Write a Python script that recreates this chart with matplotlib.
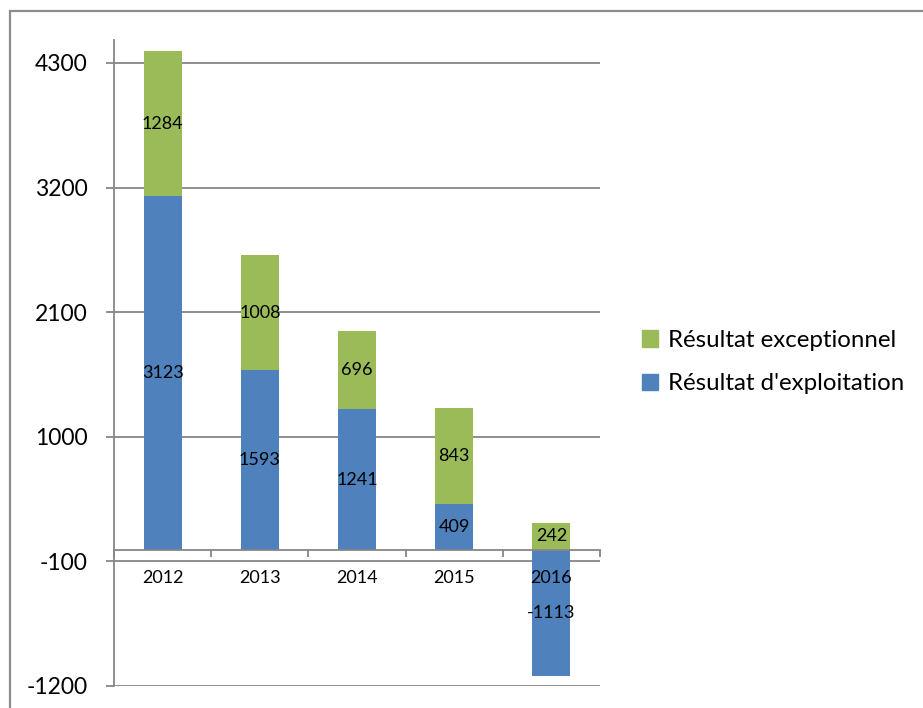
import matplotlib
matplotlib.use("Agg")
import matplotlib.pyplot as plt
from matplotlib.patches import Rectangle, Patch
import matplotlib.transforms as mtrans
import numpy as np

years = ["2012", "2013", "2014", "2015", "2016"]
exploitation = [3123, 1593, 1241, 409, -1113]
exceptionnel = [1284, 1008, 696, 843, 242]
yticks = [-1200, -100, 1000, 2100, 3200, 4300]

BLUE = "#4F81BD"
GREEN = "#9BBB59"
GRAY = "#868686"

plt.rcParams['font.family'] = ['Lato', 'DejaVu Sans']

fig = plt.figure(figsize=(9.23, 7.08), dpi=100)
W, H = 923, 708
ax = fig.add_axes([114 / W, 1 - 686 / H, (600 - 114) / W, (686 - 40) / H])

# outer frame
fig.patches.append(Rectangle((10 / W, -0.1), 1.2, 1 - 11 / H + 0.1, transform=fig.transFigure,
                             fill=False, edgecolor="#8C8C8C", linewidth=1.6, clip_on=False))

x = np.arange(len(years))
bw = 0.39
ax.bar(x, exploitation, bw, color=BLUE, zorder=3, label="Résultat d'exploitation")
base = [max(v, 0) for v in exploitation]
ax.bar(x, exceptionnel, bw, bottom=base, color=GREEN, zorder=3, label="Résultat exceptionnel")

for i in range(len(years)):
    ax.text(x[i], exploitation[i] / 2, str(exploitation[i]), ha="center", va="center",
            fontsize=13, color="black", zorder=5)
    ax.text(x[i], base[i] + exceptionnel[i] / 2, str(exceptionnel[i]), ha="center", va="center",
            fontsize=13, color="black", zorder=5)

ax.set_xlim(-0.5, len(years) - 0.5)
ax.set_ylim(-1200, 4503)

ax.set_yticks(yticks)
ax.set_yticklabels([str(v) for v in yticks], fontsize=16.5)
ax.yaxis.grid(True, color=GRAY, linewidth=1.3, zorder=1)
ax.tick_params(axis="y", length=6, width=1.3, color=GRAY, pad=13)

for s in ["top", "right"]:
    ax.spines[s].set_visible(False)
ax.spines["left"].set_color(GRAY)
ax.spines["left"].set_linewidth(1.3)
ax.spines["bottom"].set_position(("data", 0))
ax.spines["bottom"].set_color(GRAY)
ax.spines["bottom"].set_linewidth(1.3)
ax.spines["bottom"].set_zorder(4)

ax.set_xticks(x)
ax.set_xticklabels([""] * len(years))
ax.tick_params(axis="x", length=0)
ax.set_xticks(np.arange(len(years) + 1) - 0.5, minor=True)
ax.tick_params(axis="x", which="minor", length=5, width=1.3, color=GRAY, direction="out")
off = mtrans.offset_copy(ax.transData, fig=fig, x=0, y=-28, units="dots")
for i, yr in enumerate(years):
    ax.text(x[i], 0, yr, transform=off, ha="center", va="center", fontsize=13, zorder=6)

handles = [Patch(color=GREEN), Patch(color=BLUE)]
labels = ["Résultat exceptionnel", "Résultat d'exploitation"]
fig.legend(handles, labels, loc="center left", bbox_to_anchor=(620 / W, 1 - 362 / H),
           frameon=False, fontsize=17.3, handlelength=0.7, handleheight=0.7,
           handletextpad=0.4, labelspacing=0.95)

fig.savefig("out.png", dpi=100)
